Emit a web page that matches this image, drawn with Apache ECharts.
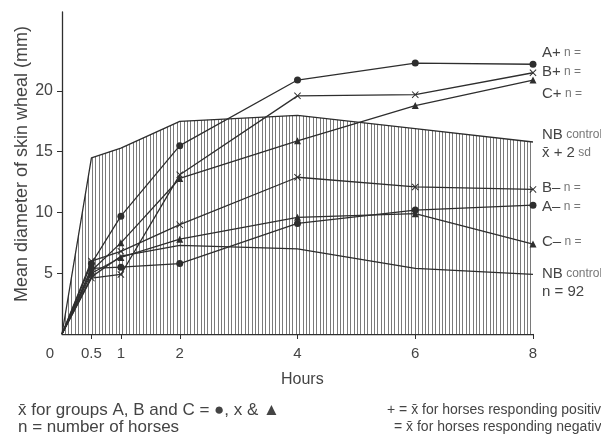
<!DOCTYPE html>
<html>
<head>
<meta charset="utf-8">
<script src="https://cdn.jsdelivr.net/npm/echarts@6/dist/echarts.min.js"></script>
<style>
  html, body { margin: 0; padding: 0; background: #fff; }
  #chart { width: 601px; height: 438px; }
</style>
</head>
<body>
<div id="chart"></div>
<script>
// hours after injection
var hours = [0, 0.5, 1, 2, 4, 6, 8];
var hourTicks = [0.5, 1, 2, 4, 6, 8];
var hourLabels = [0, 0.5, 1, 2, 4, 6, 8];
var mmTicks = [5, 10, 15, 20];

// mean wheal diameter (mm), positive responders
var aPos = [0, 5.8, 9.7, 15.5, 20.9, 22.3, 22.2];
var bPos = [0, 4.6, 4.9, 13.1, 19.6, 19.7, 21.5];
var cPos = [0, 5.2, 7.5, 12.8, 15.9, 18.8, 20.9];
// negative responders
var aNeg = [0, 5.4, 5.5, 5.8, 9.1, 10.2, 10.6];
var bNeg = [0, 6.0, 6.8, 9.0, 12.9, 12.1, 11.9];
var cNeg = [0, 5.0, 6.3, 7.8, 9.6, 9.9, 7.4];
// NB controls (n = 92): mean and mean + 2 sd
var nbMean = [0, 4.7, 6.4, 7.3, 7.0, 5.4, 4.9];
var nbUpper = [0, 14.5, 15.3, 17.5, 18.0, 16.9, 15.8];

var INK = '#2e2e2e';
var TXT = '#444';
var FONT = 'Liberation Sans';

function pairs(vals) {
    return hours.map(function (h, i) { return [h, vals[i]]; });
}

// same, but no marker on the common origin
function groupPoints(vals) {
    return pairs(vals).map(function (p, i) {
        return i === 0 ? { value: p, symbol: 'none' } : p;
    });
}

// vertical hatching for the control band
function hatch() {
    var c = document.createElement('canvas');
    c.width = 17;
    c.height = 4;
    var ctx = c.getContext('2d');
    ctx.fillStyle = '#fff';
    ctx.fillRect(0, 0, 17, 4);
    ctx.fillStyle = '#7a7a7a';
    [0, 3, 7, 10, 14].forEach(function (x) { ctx.fillRect(x, 0, 1, 4); });
    return c;
}

var crossPath = 'path://M0,1L1,0L5,4L9,0L10,1L6,5L10,9L9,10L5,6L1,10L0,9L4,5Z';

function group(name, vals, symbol, size) {
    return {
        name: name,
        type: 'line',
        data: groupPoints(vals),
        symbol: symbol,
        symbolSize: size,
        showSymbol: true,
        lineStyle: { color: INK, width: 1.3 },
        itemStyle: { color: INK },
        z: 5,
        silent: true
    };
}

var chart = echarts.init(document.getElementById('chart'));

function sideLabel(y, main, small) {
    return {
        type: 'text', left: 542, top: y - 9,
        style: {
            text: '{m|' + main + '}' + (small ? ' {s|' + small + '}' : ''),
            rich: {
                m: { fontFamily: FONT, fontSize: 15, fill: TXT },
                s: { fontFamily: FONT, fontSize: 12, fill: '#777' }
            }
        }
    };
}

var option = {
    animation: false,
    backgroundColor: '#fff',
    grid: { left: 62, right: 68, top: 12, bottom: 104, containLabel: false, outerBoundsMode: 'none' },
    xAxis: {
        type: 'value',
        min: 0,
        max: 8,
        axisLine: { lineStyle: { color: INK, width: 1.3 } },
        axisTick: { show: true, customValues: hourTicks, length: 5, lineStyle: { color: INK } },
        axisLabel: {
            customValues: hourLabels,
            margin: 12,
            color: TXT,
            fontFamily: FONT,
            fontSize: 15,
            formatter: function (v) { return v === 0 ? '{z|0}' : String(v); },
            rich: { z: { fontFamily: FONT, fontSize: 15, color: TXT, padding: [0, 24, 0, 0] } }
        },
        splitLine: { show: false }
    },
    yAxis: {
        type: 'value',
        min: 0,
        max: 26.5,
        axisLine: { show: true, lineStyle: { color: INK, width: 1.3 } },
        axisTick: { show: true, customValues: mmTicks, length: 5, lineStyle: { color: INK } },
        axisLabel: { customValues: mmTicks, margin: 9, color: TXT, fontFamily: FONT, fontSize: 16 },
        splitLine: { show: false }
    },
    series: [
        {
            name: 'NB control x + 2 sd',
            type: 'line',
            data: pairs(nbUpper),
            symbol: 'none',
            lineStyle: { color: INK, width: 1.3 },
            areaStyle: { color: { image: hatch(), repeat: 'repeat' }, opacity: 1 },
            z: 2,
            silent: true
        },
        {
            name: 'NB control',
            type: 'line',
            data: pairs(nbMean),
            symbol: 'none',
            lineStyle: { color: INK, width: 1.3 },
            z: 3,
            silent: true
        },
        group('A+', aPos, 'circle', 7),
        group('B+', bPos, crossPath, 7),
        group('C+', cPos, 'triangle', 7),
        group('A-', aNeg, 'circle', 7),
        group('B-', bNeg, crossPath, 7),
        group('C-', cNeg, 'triangle', 7)
    ],
    graphic: [
        {
            type: 'text', left: 13, top: 26, rotation: Math.PI / 2,
            style: { text: 'Mean diameter of skin wheal (mm)', fontFamily: FONT, fontSize: 18, fill: TXT }
        },
        {
            type: 'text', left: 281, top: 372,
            style: { text: 'Hours', fontFamily: FONT, fontSize: 16, fill: TXT }
        },
        sideLabel(54, 'A+', 'n ='),
        sideLabel(73, 'B+', 'n ='),
        sideLabel(95, 'C+', 'n ='),
        sideLabel(136, 'NB', 'control'),
        sideLabel(154, 'x\u0304 + 2', 'sd'),
        sideLabel(189, 'B\u2013', 'n ='),
        sideLabel(208, 'A\u2013', 'n ='),
        sideLabel(243, 'C\u2013', 'n ='),
        sideLabel(275, 'NB', 'control'),
        sideLabel(293, 'n = 92', ''),
        {
            type: 'text', left: 18, top: 402,
            style: { text: 'x\u0304 for groups A, B and C = \u25CF, x & \u25B2', fontFamily: FONT, fontSize: 17, fill: TXT }
        },
        {
            type: 'text', left: 18, top: 419,
            style: { text: 'n = number of horses', fontFamily: FONT, fontSize: 17, fill: TXT }
        },
        {
            type: 'text', left: 387, top: 403,
            style: { text: '+ = x\u0304 for horses responding positively', fontFamily: FONT, fontSize: 14, fill: TXT }
        },
        {
            type: 'text', left: 394, top: 420,
            style: { text: '= x\u0304 for horses responding negatively', fontFamily: FONT, fontSize: 14, fill: TXT }
        }
    ]
};

chart.setOption(option);
</script>
</body>
</html>
